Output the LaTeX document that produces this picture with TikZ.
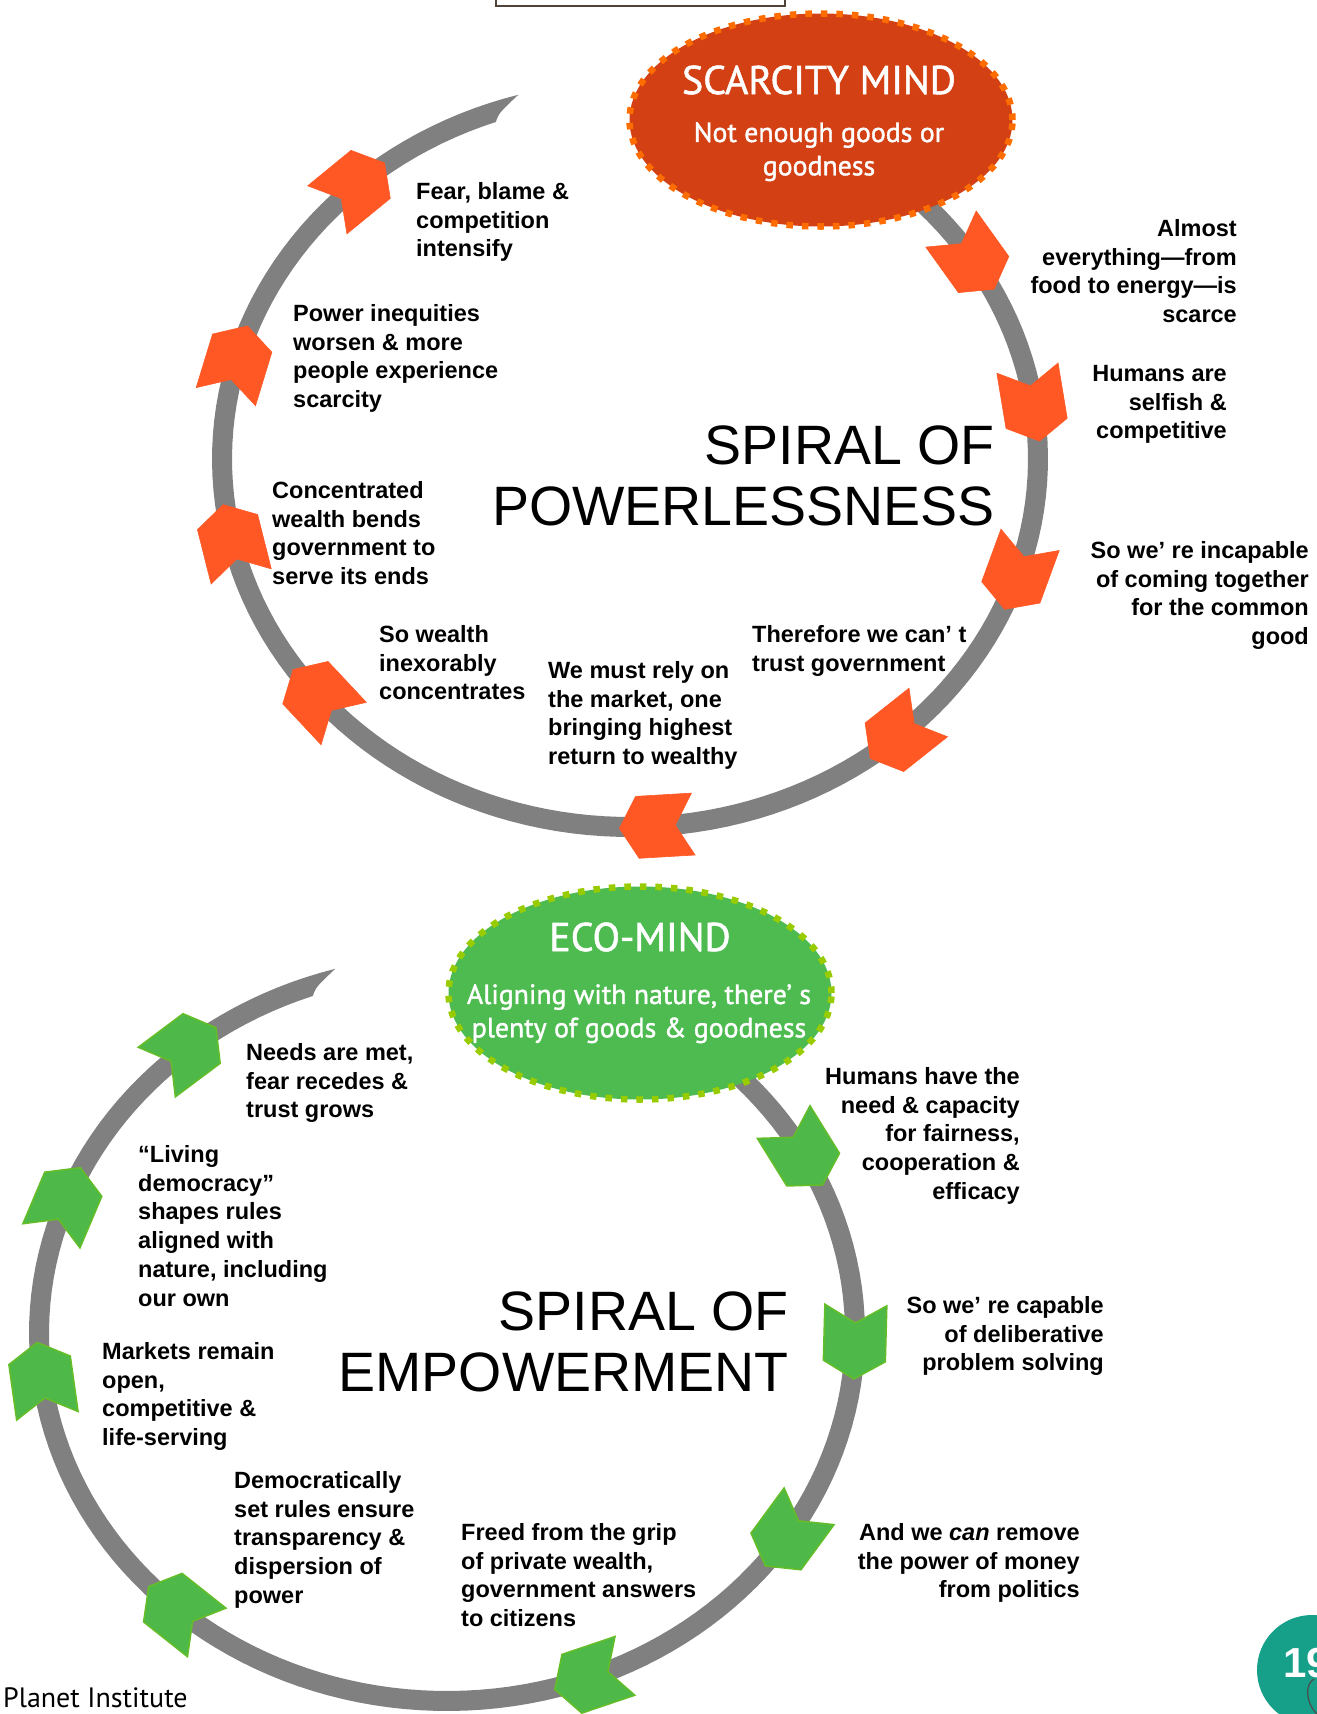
\documentclass[tikz,border=0pt]{standalone}
\usepackage{fontspec}
\setmainfont{Liberation Sans}
\newfontfamily\mindfont[FakeBold=1.4]{PT Sans}
\newfontfamily\footfont{PT Sans}
\usetikzlibrary{shapes.geometric}

\definecolor{ringgray}{RGB}{128,128,128}
\definecolor{scarcered}{RGB}{211,64,20}
\definecolor{scarcedot}{RGB}{255,108,0}
\definecolor{chevorange}{RGB}{255,88,36}
\definecolor{ecogreen}{RGB}{77,187,80}
\definecolor{ecodot}{RGB}{153,204,0}
\definecolor{chevgreen}{RGB}{78,184,72}
\definecolor{chevedge}{RGB}{100,190,40}
\definecolor{pageteal}{RGB}{22,160,138}
\definecolor{boxbrown}{RGB}{80,68,58}

\newcommand\spiralring{%
  \fill[ringgray] plot[domain=-65:254.5,samples=150] ({418*cos(\x)},{378*sin(\x)})
    .. controls (-131,-346) .. (-134.2,-337)
    -- plot[domain=250.3:-65,samples=150] ({398*cos(\x)},{358*sin(\x)}) -- cycle;}

\newcommand\spiralchev[2]{%
  \pgfmathsetmacro\chx{408*cos(#2)}%
  \pgfmathsetmacro\chy{368*sin(#2)}%
  \pgfmathsetmacro\chdir{atan2(368*cos(#2),-408*sin(#2))}%
  \filldraw[#1,shift={(\chx,\chy)},rotate=-\chdir]
    (37,0) -- (19,31) -- (-37,31) -- (-19,0) -- (-37,-31) -- (19,-31) -- cycle;}

\begin{document}
\begin{tikzpicture}[x=1pt,y=-1pt,
  every node/.style={inner sep=0pt},
  lefttext/.style={anchor=north west,align=left,font=\fontsize{23.5}{28.8}\selectfont\bfseries},
  righttext/.style={anchor=north east,align=right,font=\fontsize{23.5}{28.8}\selectfont\bfseries},
  spiraltitle/.style={anchor=north east,align=right,font=\fontsize{55.5}{61}\selectfont},
  mindbubble/.style={ellipse,minimum width=383pt,minimum height=213pt,line width=6.5pt,dash pattern=on 6.5pt off 9pt},
  mindhead/.style={text=white,font=\mindfont\fontsize{40}{42}\selectfont},
  mindtext/.style={anchor=north,align=center,text=white,font=\mindfont\fontsize{27.8}{33.3}\selectfont},
  orangechev/.style={fill=chevorange,draw=chevorange,line width=0.6pt},
  greenchev/.style={fill=chevgreen,draw=chevedge,line width=1.5pt}]
\useasboundingbox (0,0) rectangle (1317,1714);

\draw[boxbrown,line width=2.5pt] (496,-10) rectangle (785,6);

\begin{scope}[shift={(630,459)}]
\spiralring
\end{scope}
\begin{scope}[shift={(447,1333)}]
\spiralring
\end{scope}

\node[mindbubble,fill=scarcered,draw=scarcedot] (scarcity) at (821,120) {};
\node[mindhead] (scarcityhead) at (819,80) {SCARCITY MIND};
\node[mindtext] (scarcitytext) at (819,122) {Not enough goods or\\goodness};

\node[mindbubble,fill=ecogreen,draw=ecodot] (eco) at (640,993) {};
\node[mindhead] (ecohead) at (640,937) {ECO-MIND};
\node[mindtext] (ecotext) at (639,984) {Aligning with nature, there’ s\\plenty of goods \& goodness};

\begin{scope}[shift={(630,459)}]
\foreach \t in {227.8,195.4,167.2,139.8,86.3,48.7,18.3,-8.5,-32.9}
  {\spiralchev{orangechev}{\t}}
\end{scope}
\begin{scope}[shift={(447,1333)}]
\foreach \t in {230.3,200.9,172.8,131.3,69.5,33.5,1.4,-29.2}
  {\spiralchev{greenchev}{\t}}
\end{scope}

\node[spiraltitle] (powerless) at (995,426) {SPIRAL OF\\POWERLESSNESS};
\node[spiraltitle] (empower) at (789,1292) {SPIRAL OF\\EMPOWERMENT};

\node[lefttext] (fear) at (416,182) {Fear, blame \&\\competition\\intensify};
\node[righttext] (scarce) at (1237,219) {Almost\\everything—from\\food to energy—is\\scarce};
\node[righttext] (selfish) at (1227,365) {Humans are\\selfish \&\\competitive};
\node[righttext] (incapable) at (1309,541) {So we’ re incapable\\of coming together\\for the common\\good};
\node[lefttext] (distrust) at (752,625) {Therefore we can’ t\\trust government};
\node[lefttext] (market) at (548,661) {We must rely on\\the market, one\\bringing highest\\return to wealthy};
\node[lefttext] (wealth) at (379,625) {So wealth\\inexorably\\concentrates};
\node[lefttext] (bends) at (272,481) {Concentrated\\wealth bends\\government to\\serve its ends};
\node[lefttext] (inequity) at (293,304) {Power inequities\\worsen \& more\\people experience\\scarcity};

\node[lefttext] (needs) at (246,1043) {Needs are met,\\fear recedes \&\\trust grows};
\node[lefttext] (democracy) at (138,1145) {“Living\\democracy”\\shapes rules\\aligned with\\nature, including\\our own};
\node[lefttext] (openmarket) at (102,1342) {Markets remain\\open,\\competitive \&\\life-serving};
\node[lefttext] (rules) at (234,1471) {Democratically\\set rules ensure\\transparency \&\\dispersion of\\power};
\node[lefttext] (freed) at (461,1523) {Freed from the grip\\of private wealth,\\government answers\\to citizens};
\node[righttext] (money) at (1080,1523) {And we \textit{can} remove\\the power of money\\from politics};
\node[righttext] (capable) at (1104,1296) {So we’ re capable\\of deliberative\\problem solving};
\node[righttext] (fairness) at (1020,1067) {Humans have the\\need \& capacity\\for fairness,\\cooperation \&\\efficacy};

\node[anchor=base west,font=\footfont\fontsize{28}{30}\selectfont] (planet) at (3,1707) {Planet Institute};
\fill[pageteal] (1312,1670) circle (55pt);
\node[anchor=base west,text=white,font=\fontsize{42}{44}\selectfont\bfseries] (pagenum) at (1283,1677) {19};
\draw[black!70,line width=1.2pt] (1317,1714) .. controls (1305,1702) and (1305,1684) .. (1314,1679);
\end{tikzpicture}
\end{document}
